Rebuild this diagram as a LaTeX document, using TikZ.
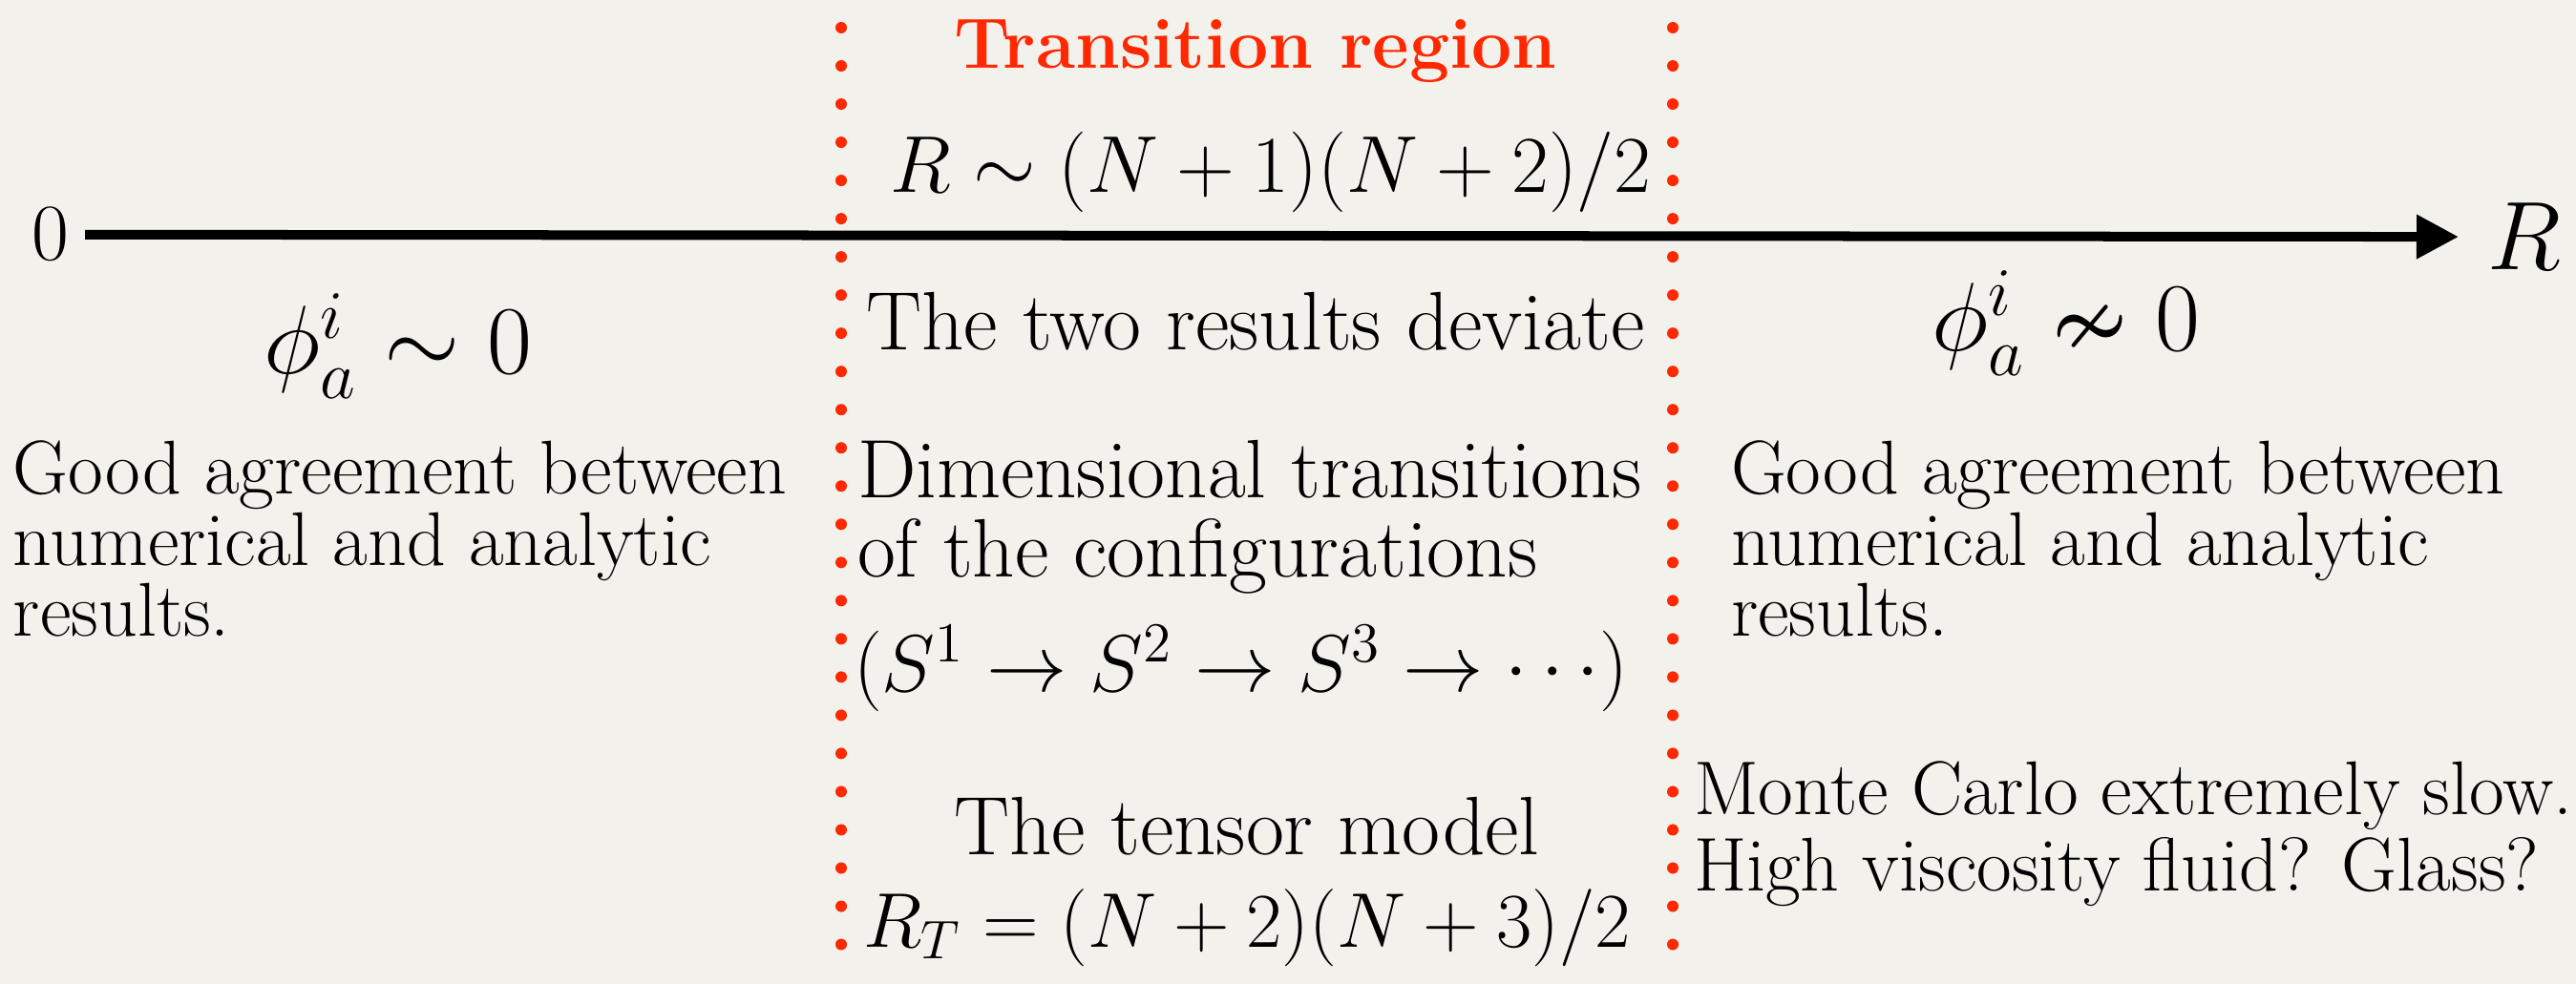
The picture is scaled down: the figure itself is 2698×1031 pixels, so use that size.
\RequirePackage{fix-cm}
\documentclass[tikz,border=0pt]{standalone}
\usepackage{amssymb}
\usepackage{fontspec}
\usetikzlibrary{arrows.meta, positioning}

\definecolor{paper}{RGB}{243,241,236}
\definecolor{trred}{RGB}{255,40,0}

\begin{document}
\begin{tikzpicture}[
  x=0.01cm, y=-0.01cm,
  every node/.style={inner sep=0pt, outer sep=0pt},
  side/.style={font=\fontsize{22.7}{21.1}\selectfont, align=left, anchor=north west},
  middle/.style={font=\fontsize{24.7}{23.6}\selectfont},
  formula/.style={font=\fontsize{24}{28}\selectfont},
  title/.style={font=\fontsize{21.3}{24}\selectfont\bfseries, text=trred},
  big/.style={font=\fontsize{29}{34}\selectfont},
  origin/.style={font=\fontsize{24}{28}\selectfont},
  border/.style={trred, line width=0.12cm, line cap=round, dash pattern=on 0pt off 0.4cm},
  axis/.style={-{Triangle[length=0.44cm, width=0.44cm]}, line width=0.1cm}
]
\useasboundingbox (0,0) rectangle (2698,1031);

% BACKGROUND
\fill[paper] (0,0) rectangle (2698,1031);

% AXIS
\node[origin, anchor=base east] (zero) at (72,273) {0};
\node[big, anchor=base west] (rlabel) at (2605,283) {$R$};
\draw[axis, shorten <=0.17cm, shorten >=0.3cm] (zero) -- (rlabel);

% DOTTED BORDERS
\coordinate (ltop) at (881,29);
\coordinate (lbot) at (881,1029);
\coordinate (rtop) at (1752,29);
\coordinate (rbot) at (1752,1029);
\draw[border] (ltop) -- (lbot);
\draw[border] (rtop) -- (rbot);

% TRANSITION REGION
\node[title, anchor=base] (trtitle) at (1315,72) {Transition region};
\node[formula, anchor=base] (rtrans) at (1331,202) {$R \sim (N+1)(N+2)/2$};
\node[middle, anchor=base] (deviate) at (1315,367) {The two results deviate};
\node[middle, anchor=north west, align=left] (dimtrans) at (898,461) {Dimensional transitions\\of the configurations};
\node[formula, anchor=base west] (spheres) at (894,724) {$(S^1 \to S^2 \to S^3 \to \cdots)$};
\node[middle, anchor=base] (tensor) at (1306,895) {The tensor model};
\node[formula, font=\fontsize{23.1}{28}\selectfont, anchor=base] (rtensor) at (1306,992) {$R_T = (N+2)(N+3)/2$};

% LEFT SIDE
\node[big, anchor=base] (phileft) at (417,392) {$\phi^i_a \sim 0$};
\node[side] (goodleft) at (14,462) {Good agreement between\\numerical and analytic\\results.};

% RIGHT SIDE
\node[big, anchor=base] (phiright) at (2164,368) {$\phi^i_a \nsim 0$};
\node[side] (goodright) at (1813,462) {Good agreement between\\numerical and analytic\\results.};
\node[side, font=\fontsize{22.7}{22.8}\selectfont] (monte) at (1774,798) {Monte Carlo extremely slow.\\High viscosity fluid? Glass?};

\end{tikzpicture}
\end{document}
